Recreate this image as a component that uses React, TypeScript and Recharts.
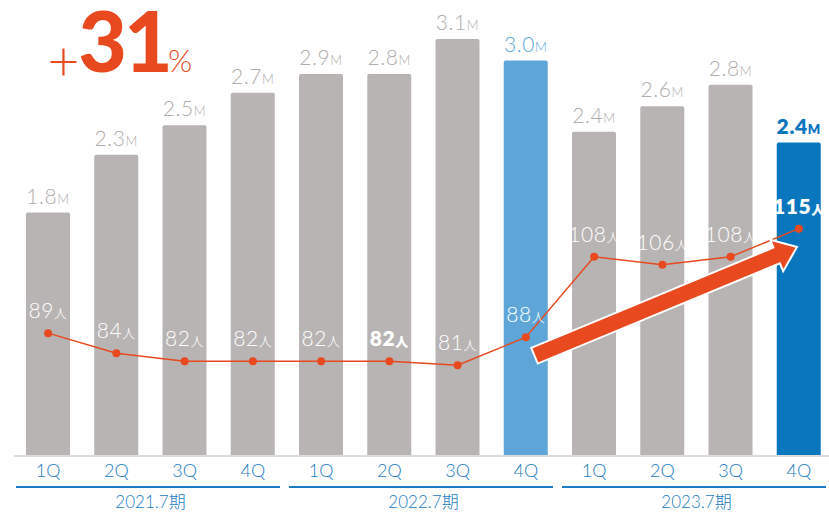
import React from 'react';
import { ComposedChart, Bar, Line, XAxis, YAxis, Cell, LabelList } from 'recharts';

const quarters = ['1Q', '2Q', '3Q', '4Q', '1Q', '2Q', '3Q', '4Q', '1Q', '2Q', '3Q', '4Q'];
const groupLabels = ['2021.7期', '2022.7期', '2023.7期'];
const revenue = [1.81, 2.24, 2.46, 2.7, 2.84, 2.84, 3.1, 2.94, 2.41, 2.6, 2.76, 2.33];
const revenueLabels = ['1.8', '2.3', '2.5', '2.7', '2.9', '2.8', '3.1', '3.0', '2.4', '2.6', '2.8', '2.4'];
const headcount = [89, 84, 82, 82, 82, 82, 81, 88, 108, 106, 108, 115];
const boldHeadcount = [5, 11];

const GRAY = '#b8b4b3';
const LIGHT_BLUE = '#5ea6d7';
const DARK_BLUE = '#0a76be';
const ORANGE = '#e8491f';
const AXIS_BLUE = '#1c7cc2';
const TEXT_GRAY = '#b1adac';
const FONT = "Lato, 'Noto Sans CJK JP', sans-serif";

const CHART_W = 840;
const MARGIN = { top: 20, right: 7, left: 14, bottom: 0 };
const BAND = (CHART_W - MARGIN.left - MARGIN.right) / quarters.length;

const data = quarters.map((q, i) => ({
  id: `${i}`,
  q,
  revenue: revenue[i],
  headcount: headcount[i],
}));

const barColor = (i: number) => (i === 7 ? LIGHT_BLUE : i === 11 ? DARK_BLUE : GRAY);
const barLabelColor = (i: number) => (i === 7 ? LIGHT_BLUE : i === 11 ? DARK_BLUE : TEXT_GRAY);

const QuarterTick = (props: any) => {
  const { x, y } = props;
  const index = props.index ?? props.payload?.index ?? 0;
  const els: any[] = [
    <text key="q" x={x} y={y + 21} textAnchor="middle" fill={AXIS_BLUE} fontSize={18} fontFamily={FONT} fontWeight={300}>
      {quarters[index]}
    </text>,
  ];
  if (index % 4 === 0) {
    const left = x - BAND / 2;
    els.push(
      <line key="gl" x1={left + 2} x2={left + 4 * BAND - 7} y1={y + 31} y2={y + 31} stroke={AXIS_BLUE} strokeWidth={2} />
    );
    els.push(
      <text key="gt" x={left + 2 * BAND} y={y + 52} textAnchor="middle" fill={AXIS_BLUE} fontSize={17} fontFamily={FONT} fontWeight={300}>
        {groupLabels[Math.floor(index / 4)]}
      </text>
    );
  }
  return <g>{els}</g>;
};

const BarLabel = (props: any) => {
  const { x, y, width, index } = props;
  const cx = Number(x) + Number(width) / 2;
  const bold = index === 11;
  return (
    <text x={cx} y={Number(y) - 9} textAnchor="middle" fill={barLabelColor(index)} fontFamily={FONT} fontWeight={bold ? 800 : 300} letterSpacing={0.6}>
      <tspan fontSize={21}>{revenueLabels[index]}</tspan>
      <tspan fontSize={13}>M</tspan>
    </text>
  );
};

const LineLabel = (props: any) => {
  const { x, y, index } = props;
  const bold = boldHeadcount.includes(index);
  return (
    <text x={Number(x)} y={Number(y) - 15} textAnchor="middle" fill="#ffffff" fontFamily={FONT} fontWeight={bold ? 800 : 300} letterSpacing={0.6}>
      <tspan fontSize={21}>{headcount[index]}</tspan>
      <tspan fontSize={13}>人</tspan>
    </text>
  );
};

const Arrow = () => {
  const start = [534.5, 355.7];
  const tip = [797, 247];
  const dx = tip[0] - start[0];
  const dy = tip[1] - start[1];
  const len = Math.hypot(dx, dy);
  const u = [dx / len, dy / len];
  const n = [-u[1], u[0]];
  const w = 8.5;
  const H = 17;
  const L = 22;
  const B = [tip[0] - u[0] * L, tip[1] - u[1] * L];
  const pts = [
    [start[0] - n[0] * w, start[1] - n[1] * w],
    [B[0] - n[0] * w, B[1] - n[1] * w],
    [B[0] - n[0] * H, B[1] - n[1] * H],
    tip,
    [B[0] + n[0] * H, B[1] + n[1] * H],
    [B[0] + n[0] * w, B[1] + n[1] * w],
    [start[0] + n[0] * w, start[1] + n[1] * w],
  ];
  return (
    <polygon
      points={pts.map((p) => `${p[0]},${p[1]}`).join(' ')}
      fill={ORANGE}
      stroke="#ffffff"
      strokeWidth={2}
      strokeLinejoin="miter"
    />
  );
};

export default function App() {
  return (
    <div style={{ position: 'absolute', left: 0, top: 0, width: 829, height: 512, overflow: 'hidden', background: '#ffffff' }}>
      <ComposedChart width={CHART_W} height={512} data={data} margin={MARGIN}>
        <XAxis
          dataKey="id"
          xAxisId="x"
          height={56}
          tickLine={false}
          tickSize={0}
          tickMargin={0}
          axisLine={{ stroke: '#dcdcdc', strokeWidth: 2 }}
          tick={<QuarterTick />}
          interval={0}
        />
        <YAxis yAxisId="bar" hide domain={[0, 3.2416]} />
        <YAxis yAxisId="line" hide domain={[58.44, 166.9]} />
        <Bar dataKey="revenue" xAxisId="x" yAxisId="bar" barSize={44} radius={[2, 2, 0, 0]} isAnimationActive={false}>
          {data.map((d, i) => (
            <Cell key={d.id} fill={barColor(i)} />
          ))}
          <LabelList dataKey="revenue" content={<BarLabel />} />
        </Bar>
        <Line
          dataKey="headcount"
          xAxisId="x"
          yAxisId="line"
          stroke={ORANGE}
          strokeWidth={1.5}
          dot={{ r: 4, fill: ORANGE, stroke: ORANGE, strokeWidth: 0 }}
          isAnimationActive={false}
        >
          <LabelList dataKey="headcount" content={<LineLabel />} />
        </Line>
      </ComposedChart>
      <svg width={829} height={512} style={{ position: 'absolute', left: 0, top: 0, pointerEvents: 'none' }}>
        <Arrow />
        <text x={63.5} y={81} textAnchor="middle" fill={ORANGE} fontSize={55} fontWeight={300} fontFamily={FONT}>+</text>
        <text x={124} y={72} textAnchor="middle" fill={ORANGE} fontSize={84} fontWeight={900} fontFamily={FONT} letterSpacing={-3}>31</text>
        <text x={168} y={72} textAnchor="start" fill={ORANGE} fontSize={31} fontWeight={300} fontFamily={FONT}>%</text>
      </svg>
    </div>
  );
}
